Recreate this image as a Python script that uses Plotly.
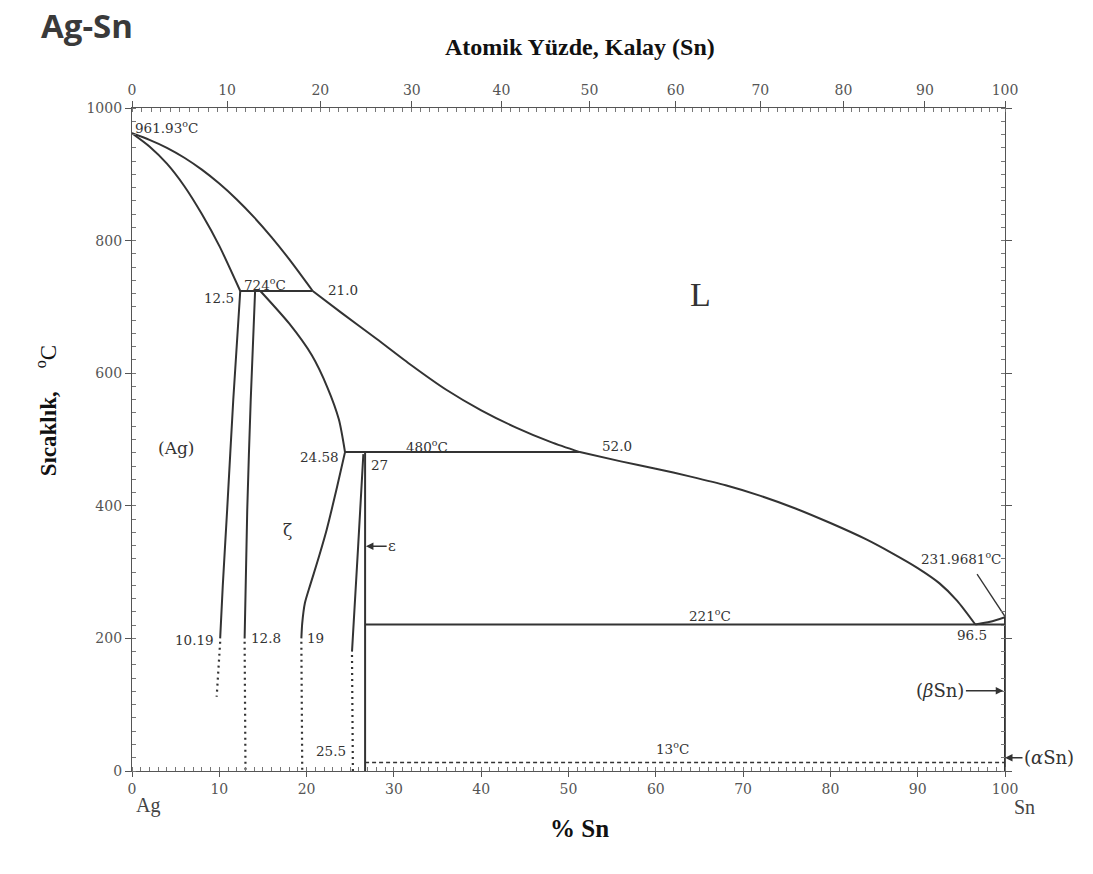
import plotly.graph_objects as go

# ---------------- data (wt.% Sn, temperature degC) ----------------
liq1_x = [0, 2, 4, 6, 8, 10, 12, 14, 16, 18, 20.7]
liq1_t = [961.93, 952, 940, 925, 907, 886, 862, 835, 805, 772, 724]
liq2_x = [20.7, 24, 28, 32, 36, 40, 44, 48, 51.3]
liq2_t = [724, 691, 652, 612, 575, 544, 518, 496, 481]
liq3_x = [51.3, 56, 60, 64, 68, 72, 76, 80, 84, 87, 90, 92.5, 94.5, 96.6]
liq3_t = [481, 467, 456, 444, 431, 415, 396, 374, 350, 329, 306, 283, 257, 221]
liq4_x = [96.6, 98.3, 100]
liq4_t = [221, 225, 231.9681]

sol_x = [0, 2, 4, 6, 8, 10, 12.4]
sol_t = [961.93, 942, 916, 882, 840, 792, 724]

ag_solvus_x = [12.4, 11.6, 10.9, 10.4, 10.1]
ag_solvus_t = [724, 560, 394, 280, 200]
ag_solvus_dot_x = [10.1, 9.7]
ag_solvus_dot_t = [195, 112]

zeta_left_x = [14.1, 13.6, 13.2, 12.9]
zeta_left_t = [724, 560, 394, 200]
zeta_left_dot_x = [12.9, 13.0]
zeta_left_dot_t = [195, 0]

zeta_right_up_x = [14.7, 18.0, 20.6, 22.4, 23.7, 24.4]
zeta_right_up_t = [724, 675, 627, 578, 530, 481]
zeta_right_low_x = [24.4, 23.5, 22.3, 21.2, 20.4, 19.8, 19.5, 19.4]
zeta_right_low_t = [481, 429, 364, 314, 280, 253, 223, 200]
zeta_right_dot_x = [19.4, 19.5]
zeta_right_dot_t = [195, 0]

eps_left_x = [26.5, 25.9, 25.2]
eps_left_t = [478, 338, 180]
eps_left_dot_x = [25.2, 25.3]
eps_left_dot_t = [175, 0]
eps_right_x = [26.7, 26.7]
eps_right_t = [481, 0]

peri724_x = [12.4, 20.7]
peri724_t = [724, 724]
peri480_x = [24.4, 51.3]
peri480_t = [481, 481]
eut221_x = [26.7, 100]
eut221_t = [221, 221]
trans13_x = [26.7, 100]
trans13_t = [13, 13]
sn_x = [100, 100]
sn_t = [231.9681, 0]
leader_x = [96.8, 100]
leader_t = [297, 233]

bottom_ticks = list(range(0, 101, 10))
y_ticks = list(range(0, 1001, 200))
top_ticks_at = list(range(0, 101, 10))
top_minor_at = list(range(0, 101, 1))

M_AG, M_SN = 107.8682, 118.71


def at_to_wt(a):
    return 100.0 * a * M_SN / (a * M_SN + (100.0 - a) * M_AG)


LINE = "#333333"
AX = "#555555"
SERIF = "Liberation Serif"
LAB = "DejaVu Serif"

fig = go.Figure()


def add_line(x, y, dash="solid", spline=False, width=2.0):
    fig.add_trace(go.Scatter(
        x=x, y=y, mode="lines",
        line=dict(color=LINE, width=width, dash=dash,
                  shape="spline" if spline else "linear", smoothing=0.7),
        hoverinfo="skip", showlegend=False))


for xs, ts in [(liq1_x, liq1_t), (liq2_x, liq2_t), (liq3_x, liq3_t), (liq4_x, liq4_t),
               (sol_x, sol_t), (ag_solvus_x, ag_solvus_t), (zeta_left_x, zeta_left_t),
               (zeta_right_up_x, zeta_right_up_t), (zeta_right_low_x, zeta_right_low_t),
               (eps_left_x, eps_left_t)]:
    add_line(xs, ts, spline=True)

for xs, ts in [(eps_right_x, eps_right_t), (peri724_x, peri724_t), (peri480_x, peri480_t),
               (eut221_x, eut221_t), (sn_x, sn_t)]:
    add_line(xs, ts)

add_line(leader_x, leader_t, width=1.3)

for xs, ts in [(ag_solvus_dot_x, ag_solvus_dot_t), (zeta_left_dot_x, zeta_left_dot_t),
               (zeta_right_dot_x, zeta_right_dot_t), (eps_left_dot_x, eps_left_dot_t)]:
    add_line(xs, ts, dash="2px,4px", width=2.2)

add_line(trans13_x, trans13_t, dash="4px,3px", width=1.5)

# dummy trace so the top (atomic %) axis is drawn
fig.add_trace(go.Scatter(x=[0, 100], y=[-50, -50], xaxis="x2", yaxis="y",
                         mode="lines", line=dict(width=0), hoverinfo="skip",
                         showlegend=False))

# ---------------- labels ----------------
labels = [
    ("961.93<sup>o</sup>C", 0.1, 972, "left"),
    ("12.5", 11.9, 714, "right"),
    ("724<sup>o</sup>C", 12.6, 735, "left"),
    ("21.0", 22.2, 725, "left"),
    ("24.58", 23.9, 473, "right"),
    ("480<sup>o</sup>C", 31.2, 490, "left"),
    ("27", 27.1, 461, "left"),
    ("52.0", 53.6, 490, "left"),
    ("10.19", 9.6, 198, "right"),
    ("12.8", 13.4, 200, "left"),
    ("19", 19.8, 200, "left"),
    ("25.5", 24.7, 30, "right"),
    ("13<sup>o</sup>C", 61.9, 35, "center"),
    ("221<sup>o</sup>C", 66.2, 235, "center"),
    ("96.5", 96.2, 205, "center"),
    ("231.9681<sup>o</sup>C", 95.0, 322, "center"),
]
anns = []
for txt, x, y, anc in labels:
    anns.append(dict(text=txt, x=x, y=y, xref="x", yref="y", xanchor=anc,
                     yanchor="middle", showarrow=False,
                     font=dict(family=LAB, size=13.5, color=LINE)))


def paper_text(txt, x, y, size, color="#111", family=SERIF, xanchor="center", **kw):
    return dict(text=txt, x=x, y=y, xref="paper", yref="paper", xanchor=xanchor,
                yanchor="middle", showarrow=False,
                font=dict(family=family, size=size, color=color), **kw)


anns += [
    dict(text="L", x=65.1, y=718, xref="x", yref="y", showarrow=False,
         xanchor="center", yanchor="middle",
         font=dict(family=SERIF, size=34, color=LINE)),
    dict(text="(Ag)", x=5.0, y=487, xref="x", yref="y", showarrow=False,
         xanchor="center", yanchor="middle",
         font=dict(family=LAB, size=17, color=LINE)),
    dict(text="ζ", x=17.8, y=364, xref="x", yref="y", showarrow=False,
         xanchor="center", yanchor="middle",
         font=dict(family=LAB, size=17, color=LINE)),
    dict(text="ε", x=26.8, y=339, xref="x", yref="y", ax=29.8, ay=339,
         axref="x", ayref="y", showarrow=True, arrowhead=2, arrowsize=1,
         arrowwidth=1.5, arrowcolor=LINE, standoff=0,
         font=dict(family=LAB, size=15, color=LINE)),
    dict(text="(<i>β</i>Sn)", x=99.8, y=121, xref="x", yref="y", ax=92.6, ay=121,
         axref="x", ayref="y", showarrow=True, arrowhead=2, arrowsize=1,
         arrowwidth=1.5, arrowcolor=LINE, standoff=0,
         font=dict(family=LAB, size=18, color=LINE)),
    dict(text="(<i>α</i>Sn)", x=1.0, y=20, xref="paper", yref="y", ax=44, ay=0,
         showarrow=True, arrowhead=2, arrowsize=1,
         arrowwidth=1.5, arrowcolor=LINE, standoff=0,
         font=dict(family=LAB, size=18, color=LINE)),
    paper_text("Ag", 0.018, -0.052, 20, color="#444"),
    paper_text("Sn", 1.022, -0.054, 20, color="#444"),
    paper_text("<b>% Sn</b>", 0.513, -0.086, 25),
    paper_text("<b>Atomik Yüzde, Kalay (Sn)</b>", 0.513, 1.092, 24),
    paper_text("<b>Ag-Sn</b>", -0.107, 1.124, 33, color="#3a3a3a",
               family="Open Sans", xanchor="left"),
    paper_text("<b>Sıcaklık,</b>    <sup>o</sup>C", -0.097, 0.543, 23, textangle=-90),
]

tickfont = dict(family=LAB, size=14, color="#555")
fig.update_layout(
    width=1093, height=874,
    margin=dict(l=132, r=88, t=108, b=103),
    paper_bgcolor="white", plot_bgcolor="white",
    showlegend=False,
    annotations=anns,
    xaxis=dict(range=[0, 100], tickmode="array", tickvals=bottom_ticks,
               ticks="outside", ticklen=5, tickwidth=1.2, tickcolor=AX,
               showline=True, linecolor=AX, linewidth=1.3, mirror=False,
               showgrid=False, zeroline=False, tickfont=tickfont,
               minor=dict(tickmode="linear", tick0=0, dtick=1, ticks="inside",
                          ticklen=4, tickcolor="#777", showgrid=False)),
    xaxis2=dict(range=[0, 100], overlaying="x", side="top", tickmode="array",
                tickvals=[at_to_wt(a) for a in top_ticks_at],
                ticktext=[str(a) for a in top_ticks_at],
                ticks="outside", ticklen=6, tickwidth=1.2, tickcolor=AX,
                showline=True, linecolor=AX, linewidth=1.3,
                showgrid=False, zeroline=False, tickfont=tickfont,
                minor=dict(tickmode="array",
                           tickvals=[at_to_wt(a) for a in top_minor_at],
                           ticks="inside", ticklen=4, tickcolor="#777",
                           showgrid=False)),
    yaxis=dict(range=[0, 1000], tickmode="array", tickvals=y_ticks,
               ticks="outside", ticklen=6, tickwidth=1.2, tickcolor=AX,
               showline=True, linecolor=AX, linewidth=1.3, mirror="ticks",
               showgrid=False, zeroline=False, tickfont=tickfont,
               minor=dict(tickmode="linear", tick0=0, dtick=20, ticks="inside",
                          ticklen=4, tickcolor="#777", showgrid=False)),
)

fig.write_html("out.html")
